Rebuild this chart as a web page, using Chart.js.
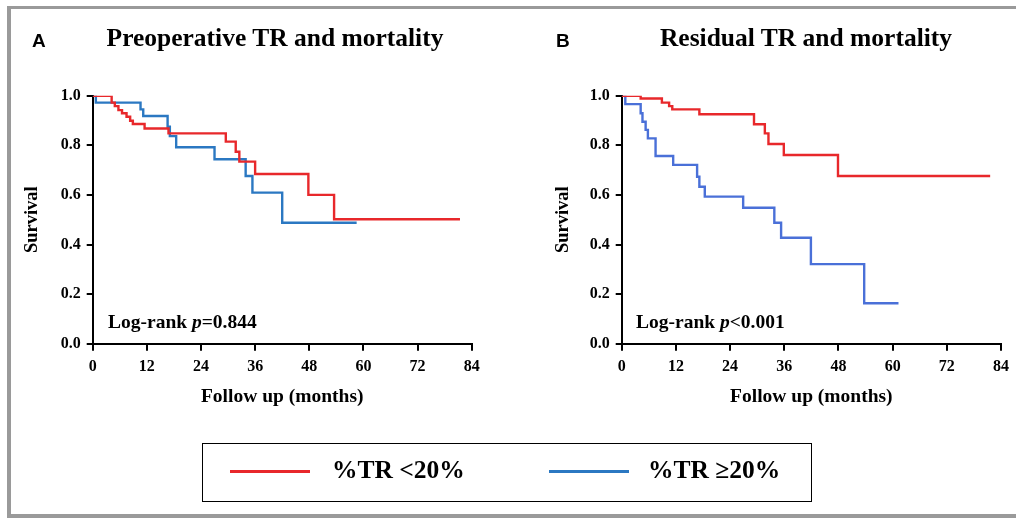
<!DOCTYPE html>
<html>
<head>
<meta charset="utf-8">
<script src="https://cdn.jsdelivr.net/npm/chart.js@4.4.1/dist/chart.umd.min.js"></script>
<style>
  html, body { margin: 0; padding: 0; background: #fff; }
  #wrap { position: relative; width: 1016px; height: 518px; overflow: hidden; background: #fff; }
  .frameT { position: absolute; left: 7px; top: 6px; width: 1009px; height: 3px; background: #9a9a9a; }
  .frameL { position: absolute; left: 7px; top: 6px; width: 4px; height: 512px; background: #9a9a9a; }
  .frameB { position: absolute; left: 7px; top: 514px; width: 1009px; height: 4px; background: #9a9a9a; }
  canvas { position: absolute; top: 0; }
  .txt { position: absolute; white-space: nowrap; color: #000; line-height: 1.15; }
  .panel { font-family: "Liberation Sans", Arial, sans-serif; font-weight: bold; font-size: 19px; }
  .ttl { font-family: "Liberation Serif", "Times New Roman", serif; font-weight: bold; font-size: 25.5px; transform: translateX(-50%); }
  .lr { font-family: "Liberation Serif", "Times New Roman", serif; font-weight: bold; font-size: 19.5px; }
  #legend { position: absolute; left: 202px; top: 443px; width: 608px; height: 57px; border: 1.5px solid #000; }
  .sw { position: absolute; height: 3px; top: 26px; }
  .lt { position: absolute; top: 11px; font-family: "Liberation Serif", "Times New Roman", serif; font-weight: bold; font-size: 25.5px; white-space: nowrap; line-height: 1.15; }
</style>
</head>
<body>
<div id="wrap">
  <div class="frameT"></div>
  <div class="frameL"></div>
  <div class="frameB"></div>
  <canvas id="cA" width="508" height="518" style="left:0;width:508px;height:518px"></canvas>
  <canvas id="cB" width="508" height="518" style="left:508px;width:508px;height:518px"></canvas>
  <div class="txt panel" style="left:32px;top:30px">A</div>
  <div class="txt panel" style="left:556px;top:30px">B</div>
  <div class="txt ttl" style="left:275px;top:23px">Preoperative TR and mortality</div>
  <div class="txt ttl" style="left:806px;top:23px">Residual TR and mortality</div>
  <div class="txt lr" style="left:108px;top:311px">Log-rank <i>p</i>=0.844</div>
  <div class="txt lr" style="left:636px;top:311px">Log-rank <i>p</i>&lt;0.001</div>
  <div id="legend">
    <div class="sw" style="left:27px;width:80px;background:#e8282b"></div>
    <div class="lt" style="left:129px">%TR &lt;20%</div>
    <div class="sw" style="left:346px;width:80px;background:#2b78c2"></div>
    <div class="lt" style="left:445px">%TR ≥20%</div>
  </div>
</div>
<script>
// ---- Data ----
const xTicks = [0, 12, 24, 36, 48, 60, 72, 84];
const yTicks = [0.0, 0.2, 0.4, 0.6, 0.8, 1.0];
const seriesNames = ["%TR <20%", "%TR \u226520%"];

// Panel A: Preoperative TR
const preLowT = [0, 4.2, 4.9, 5.7, 6.5, 7.5, 8.3, 8.9, 11.5, 16.8, 29.5, 31.7, 32.5, 36.0, 47.8, 53.5, 81.4];
const preLowS = [1.0, 0.972, 0.958, 0.942, 0.929, 0.915, 0.899, 0.886, 0.868, 0.848, 0.815, 0.774, 0.734, 0.684, 0.600, 0.502, 0.502];
const preHighT = [0, 0.7, 10.6, 11.2, 16.6, 17.1, 18.5, 27.0, 33.9, 35.4, 42.0, 58.5];
const preHighS = [1.0, 0.972, 0.945, 0.918, 0.875, 0.837, 0.792, 0.744, 0.676, 0.609, 0.488, 0.488];

// Panel B: Residual TR
const resLowT = [0, 4.2, 8.9, 10.5, 11.2, 17.2, 29.3, 31.7, 32.5, 35.9, 47.9, 81.6];
const resLowS = [1.0, 0.989, 0.972, 0.958, 0.945, 0.925, 0.885, 0.848, 0.805, 0.761, 0.676, 0.676];
const resHighT = [0, 0.8, 4.2, 4.6, 5.3, 5.8, 7.5, 11.4, 16.7, 17.2, 18.4, 26.9, 33.8, 35.3, 41.9, 53.7, 61.3];
const resHighS = [1.0, 0.966, 0.929, 0.895, 0.862, 0.828, 0.757, 0.721, 0.673, 0.633, 0.593, 0.548, 0.488, 0.427, 0.321, 0.163, 0.163];

const toPts = (t, s) => t.map((x, i) => ({ x: x, y: s[i] }));
const serif = "'Liberation Serif', 'Times New Roman', serif";

function makeChart(id, lowT, lowS, highT, highS, blue, yAxisW, yTitlePad, padRight) {
  new Chart(document.getElementById(id), {
    type: 'line',
    data: {
      datasets: [
        { label: seriesNames[0], data: toPts(lowT, lowS), borderColor: '#e8282b', borderWidth: 2.4, stepped: true, pointRadius: 0, fill: false },
        { label: seriesNames[1], data: toPts(highT, highS), borderColor: blue, borderWidth: 2.4, stepped: true, pointRadius: 0, fill: false }
      ]
    },
    options: {
      responsive: false,
      animation: false,
      events: [],
      layout: { padding: { left: 0, top: 95.7, right: padRight, bottom: 109.6 } },
      plugins: { legend: { display: false }, tooltip: { enabled: false }, title: { display: false } },
      scales: {
        x: {
          type: 'linear', min: 0, max: 84,
          afterBuildTicks: (sc) => { sc.ticks = xTicks.map(v => ({ value: v })); },
          afterFit: (sc) => { sc.height = 64.7; },
          ticks: { color: '#000', font: { family: serif, weight: 'bold', size: 16 }, padding: 6.4, maxRotation: 0, autoSkip: false },
          grid: { display: true, drawOnChartArea: false, drawTicks: true, tickLength: 7, color: '#000', lineWidth: 2 },
          border: { display: true, color: '#000', width: 2 },
          title: { display: true, text: 'Follow up (months)', color: '#000', font: { family: serif, weight: 'bold', size: 19.5 }, padding: 0 }
        },
        y: {
          type: 'linear', min: 0, max: 1,
          afterBuildTicks: (sc) => { sc.ticks = yTicks.map(v => ({ value: v })); },
          afterFit: (sc) => { sc.width = yAxisW; },
          ticks: { color: '#000', font: { family: serif, weight: 'bold', size: 16 }, padding: 6, callback: (v) => Number(v).toFixed(1) },
          grid: { display: true, drawOnChartArea: false, drawTicks: true, tickLength: 6, color: '#000', lineWidth: 2 },
          border: { display: true, color: '#000', width: 2 },
          title: { display: true, text: 'Survival', color: '#000', font: { family: serif, weight: 'bold', size: 18.5 }, padding: { top: yTitlePad, bottom: 0 } }
        }
      }
    }
  });
}

makeChart('cA', preLowT, preLowS, preHighT, preHighS, '#2b78c2', 92.7, 20.9, 36.3);
makeChart('cB', resLowT, resLowS, resHighT, resHighS, '#4a70d8', 113.7, 43.9, 15);
</script>
</body>
</html>
